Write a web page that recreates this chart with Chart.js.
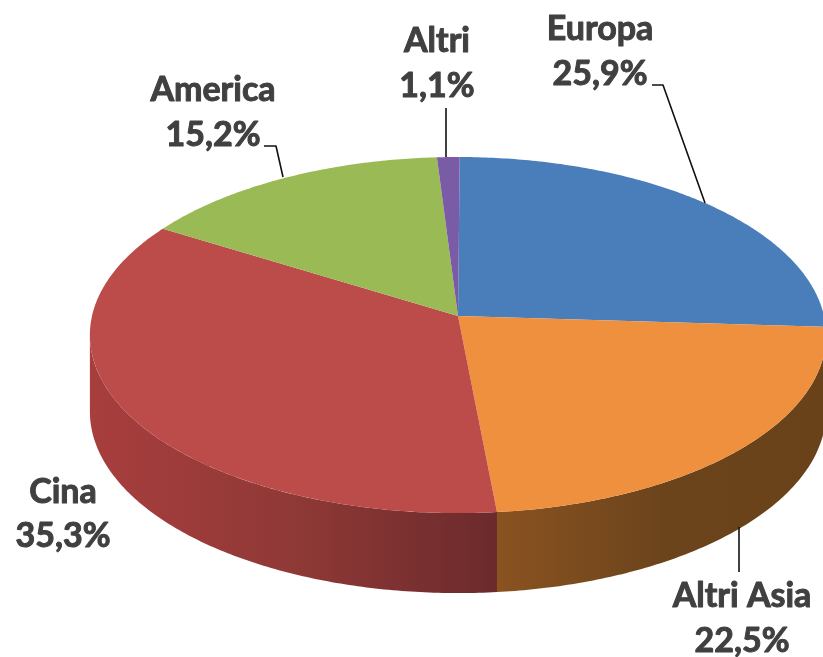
<!DOCTYPE html>
<html>
<head>
<meta charset="utf-8">
<style>html,body{margin:0;padding:0;background:#fff}#box{width:823px;height:657px}</style>
<script src="https://cdn.jsdelivr.net/npm/chart.js@4"></script>
</head>
<body>
<div id="box"><canvas id="c" width="823" height="657"></canvas></div>
<script>
const categories = ['Europa', 'Altri Asia', 'Cina', 'America', 'Altri'];
const shares = [25.9, 22.5, 35.3, 15.2, 1.1];
const topColors = ['#4A7EBB', '#EF903E', '#BC4C49', '#99BA54', '#7A5CA6'];
const wallStops = {
  1: ['#8A5320', '#6C441C', '#6A421A'],
  2: ['#A83E3E', '#8F3936', '#6C2A2C']
};

// Perspective tilt of the pie disc
const view = { cx: 458, cy: 316, a: 176, b: 366, k: 0.107, depthMid: 76, depthTilt: 4 };
const silhouette = { from: -Math.PI / 2 + 96 * Math.PI / 180, to: -Math.PI / 2 + 264 * Math.PI / 180 };

function rim(angle, lower) {
  const u = Math.cos(angle), v = -Math.sin(angle), d = 1 + view.k * v;
  const x = view.cx + view.b * u / d;
  const y = view.cy - view.a * v / d;
  return lower ? [x, y + view.depthMid - view.depthTilt * v] : [x, y];
}

Chart.ArcElement.prototype.draw = function (ctx) {
  const s = this.startAngle, e = this.endAngle;
  ctx.save();
  ctx.beginPath();
  ctx.moveTo(view.cx, view.cy);
  const n = Math.max(2, Math.ceil((e - s) * 90));
  for (let i = 0; i <= n; i++) {
    const p = rim(s + (e - s) * i / n, false);
    ctx.lineTo(p[0], p[1]);
  }
  ctx.closePath();
  ctx.fillStyle = this.options.backgroundColor;
  ctx.fill();
  ctx.restore();
};

const walls = {
  id: 'walls',
  beforeDatasetsDraw(chart) {
    const ctx = chart.ctx;
    chart.getDatasetMeta(0).data.forEach((arc, idx) => {
      const s = Math.max(arc.startAngle, silhouette.from);
      const e = Math.min(arc.endAngle, silhouette.to);
      const stops = wallStops[idx];
      if (!(e > s) || !stops) return;
      const n = Math.ceil((e - s) * 90);
      const up = [], low = [];
      for (let i = 0; i <= n; i++) {
        const t = s + (e - s) * i / n;
        up.push(rim(t, false));
        low.push(rim(t, true));
      }
      const x0 = Math.min(up[0][0], up[n][0]), x1 = Math.max(up[0][0], up[n][0]);
      const g = ctx.createLinearGradient(x0, 0, x1, 0);
      stops.forEach((c, i) => g.addColorStop(i / (stops.length - 1), c));
      ctx.save();
      ctx.beginPath();
      up.forEach((p, i) => i ? ctx.lineTo(p[0], p[1]) : ctx.moveTo(p[0], p[1]));
      low.reverse().forEach(p => ctx.lineTo(p[0], p[1]));
      ctx.closePath();
      ctx.fillStyle = g;
      ctx.fill();
      ctx.restore();
    });
  }
};

const labelPlaces = [
  { x: 600, y1: 40, y2: 85, line: [[652, 85], [663, 85], [705, 203]] },
  { x: 742, y1: 607, y2: 652, line: [[739, 527], [739, 572]] },
  { x: 63, y1: 503, y2: 547, line: null },
  { x: 213, y1: 101, y2: 146, line: [[264, 146], [276, 146], [283, 177]] },
  { x: 437, y1: 52, y2: 97, line: [[446, 108], [446, 157]] }
];

const labels3d = {
  id: 'labels3d',
  afterDatasetsDraw(chart) {
    const ctx = chart.ctx;
    ctx.save();
    ctx.textAlign = 'center';
    ctx.textBaseline = 'alphabetic';
    ctx.font = 'bold 34px Lato';
    ctx.fillStyle = '#404040';
    ctx.strokeStyle = '#404040';
    ctx.lineJoin = 'round';
    categories.forEach((name, i) => {
      const p = labelPlaces[i];
      const val = shares[i].toFixed(1).replace('.', ',') + '%';
      ctx.lineWidth = 1;
      ctx.strokeText(name, p.x, p.y1);
      ctx.strokeText(val, p.x, p.y2);
      ctx.fillText(name, p.x, p.y1);
      ctx.fillText(val, p.x, p.y2);
      if (p.line) {
        ctx.save();
        ctx.beginPath();
        p.line.forEach((q, j) => j ? ctx.lineTo(q[0], q[1]) : ctx.moveTo(q[0], q[1]));
        ctx.strokeStyle = '#111';
        ctx.lineWidth = 1.6;
        ctx.stroke();
        ctx.restore();
      }
    });
    ctx.restore();
  }
};

new Chart(document.getElementById('c'), {
  type: 'pie',
  data: {
    labels: categories,
    datasets: [{ data: shares, backgroundColor: topColors, borderWidth: 0 }]
  },
  options: {
    responsive: false,
    animation: false,
    rotation: 0.3,
    plugins: { legend: { display: false }, tooltip: { enabled: false } }
  },
  plugins: [walls, labels3d]
});
</script>
</body>
</html>
